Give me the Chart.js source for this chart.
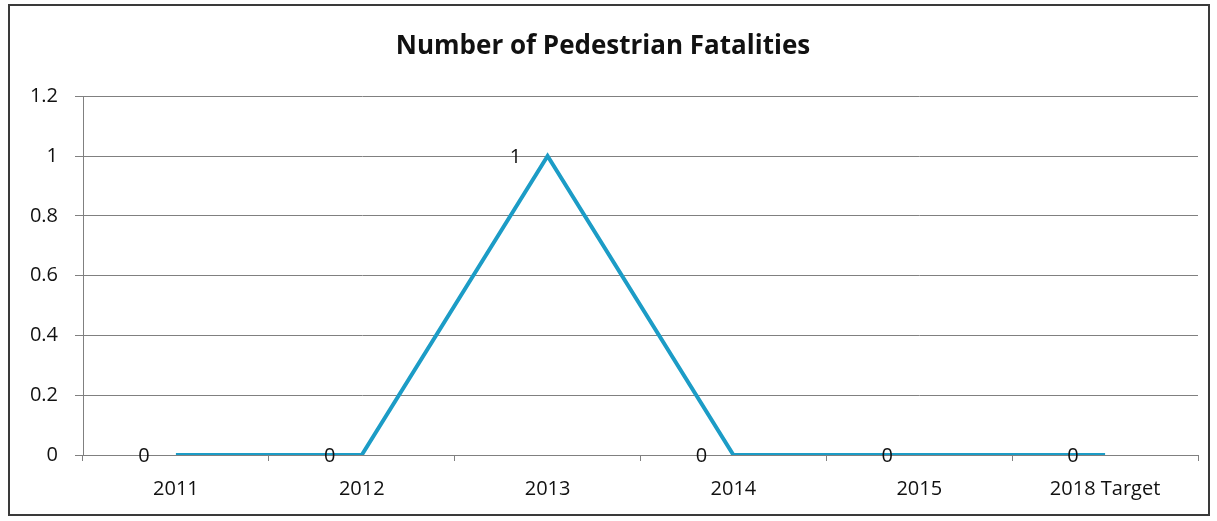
<!DOCTYPE html>
<html>
<head>
<meta charset="utf-8">
<script src="https://cdn.jsdelivr.net/npm/chart.js@4/dist/chart.umd.min.js"></script>
<style>
  html, body { margin: 0; padding: 0; background: #fff; }
  #wrap { width: 1217px; height: 521px; position: relative; }
</style>
</head>
<body>
<div id="wrap"><canvas id="chart"></canvas></div>
<script>
const years = ["2011", "2012", "2013", "2014", "2015", "2018 Target"];
const fatalities = [0, 0, 1, 0, 0, 0];
const yTicks = [0, 0.2, 0.4, 0.6, 0.8, 1, 1.2];

const font = "'Open Sans', 'Liberation Sans', sans-serif";

// frame around the whole chart
const framePlugin = {
    id: 'frame',
    beforeDraw: (chart) => {
        const {ctx} = chart;
        ctx.save();
        ctx.fillStyle = '#fff';
        ctx.fillRect(0, 0, chart.width, chart.height);
        ctx.strokeStyle = '#3a3a3a';
        ctx.lineWidth = 2;
        ctx.strokeRect(9, 5, chart.width - 17, chart.height - 11);
        ctx.restore();
    }
};

// value labels sit to the left of each point
const labelPlugin = {
    id: 'pointLabels',
    afterDatasetsDraw: (chart) => {
        const {ctx} = chart;
        const meta = chart.getDatasetMeta(0);
        ctx.save();
        ctx.font = '20px ' + font;
        ctx.fillStyle = '#111';
        ctx.textAlign = 'center';
        ctx.textBaseline = 'middle';
        meta.data.forEach((pt, i) => {
            ctx.fillText(String(fatalities[i]), pt.x - 32, pt.y + 1);
        });
        ctx.restore();
    }
};

new Chart(document.getElementById('chart'), {
    type: 'line',
    data: {
        labels: years,
        datasets: [{
            data: fatalities,
            borderColor: '#1c9cc6',
            borderWidth: 4,
            pointRadius: 0,
            tension: 0,
            fill: false
        }]
    },
    options: {
        responsive: true,
        maintainAspectRatio: false,
        animation: false,
        layout: { padding: { left: 8, right: 19, top: 0, bottom: 0 } },
        plugins: {
            legend: { display: false },
            tooltip: { enabled: false },
            title: {
                display: true,
                text: 'Number of Pedestrian Fatalities',
                color: '#111',
                font: { family: font, size: 26, weight: 'bold' },
                padding: { top: 31, bottom: 34 }
            }
        },
        scales: {
            x: {
                offset: true,
                afterFit: (scale) => { scale.height = 66; },
                border: { color: '#808080', width: 1 },
                grid: {
                    offset: true,
                    drawOnChartArea: false,
                    drawTicks: true,
                    tickLength: 6,
                    color: '#808080'
                },
                ticks: {
                    color: '#111',
                    padding: 16,
                    maxRotation: 0,
                    font: { family: font, size: 20 }
                }
            },
            y: {
                min: 0,
                max: 1.2,
                afterFit: (scale) => { scale.width = 75; },
                afterBuildTicks: (scale) => {
                    scale.ticks = yTicks.map(v => ({ value: v }));
                },
                border: { color: '#808080', width: 1 },
                grid: {
                    color: '#808080',
                    tickLength: 8
                },
                ticks: {
                    color: '#111',
                    padding: 17,
                    font: { family: font, size: 20 },
                    callback: (v) => String(Math.round(v * 10) / 10)
                }
            }
        }
    },
    plugins: [framePlugin, labelPlugin]
});
</script>
</body>
</html>
